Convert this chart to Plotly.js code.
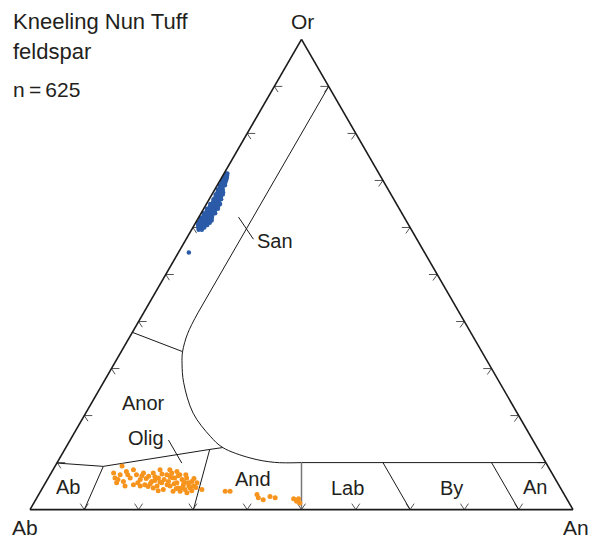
<!DOCTYPE html>
<html><head><meta charset="utf-8">
<script src="https://cdn.plot.ly/plotly-3.0.1.min.js"></script>
<style>html,body{margin:0;padding:0;background:#fff}</style>
</head><body><div id="chart" style="width:590px;height:540px"></div>
<script>
// ---- data (percent Or = a, An = c; Ab is the remainder to 100) ----
const blueOr = [71.5,71.5,71,71,70.5,70.5,70,70,70,69.5,69.5,69,69,69,68.5,68.5,68,68,68,67.5,67.5,67.5,67,67,67,67,66.5,66.5,66.5,66,66,66,66,65.5,65.5,65.5,65,65,65,65,65,64.5,64.5,64.5,64.5,64,64,64,64,64,63.5,63.5,63.5,63.5,63,63,63,63,63,62.5,62.5,62.5,62.5,62,62,62,62,62,61.5,61.5,61.5,61.5,61.5,61,61,61,61,61,60.5,60.5,60.5,60.5,60,60,60,59.5,59.5,54.7];
const blueAn = [0.3,0.6,0.4,0.8,0.5,1.0,0.3,0.7,1.1,0.6,1.2,0.5,0.9,1.4,0.7,1.2,0.6,1.0,1.5,0.8,1.3,1.8,0.7,1.1,1.6,2.0,0.9,1.4,1.9,0.8,1.2,1.7,2.2,1.0,1.5,2.0,0.7,1.1,1.6,2.1,2.5,0.9,1.4,1.9,2.4,0.6,1.0,1.5,2.0,2.6,0.8,1.3,1.8,2.3,0.5,1.0,1.5,2.1,2.6,0.7,1.2,1.7,2.3,0.4,0.9,1.4,2.0,2.5,0.6,1.1,1.7,2.2,2.7,0.5,1.0,1.5,2.1,2.6,0.7,1.2,1.8,2.4,1.0,1.5,2.1,1.3,1.9,1.9];

const orangeOr = [9.3,7.8,6.7,5.7,7.4,6.0,8.1,6.7,5.0,8.5,7.4,5.3,6.4,7.8,5.3,7.1,6.0,7.8,5.0,8.5,6.7,5.7,4.3,7.4,6.0,5.0,7.8,3.9,6.7,5.7,4.6,7.4,6.4,5.3,4.3,6.7,5.7,4.6,6.0,5.0,5.7,3.6,3.9,4.3,8.5,8.1,4.6,4.9,5.0,
  7.0,6.4,6.8,7.2,5.9,5.1,5.5,5.3,5.9,6.6,6.6,5.7,7.4,6.4,7.6,4.7,4.5,4.0,4.0,5.5,4.7,7.4,7.0,7.2,6.2,
  3.9,3.9,3.2,2.5,2.1,2.8,2.5,2.3,1.8,2.3,1.4];
const orangeAn = [12.3,11.5,12.3,13.1,12.9,14.2,13.7,15.1,15.0,14.8,15.9,16.4,17.1,17.0,18.5,18.3,19.4,18.8,20.9,19.7,20.3,21.4,22.4,21.5,22.5,23.3,22.2,24.4,23.3,24.2,25.0,23.9,24.8,25.6,26.4,25.5,26.3,27.2,26.8,27.6,27.9,27.1,25.7,29.5,21.5,23.0,20.4,19.3,17.8,
  19.5,21.5,22.8,23.7,25.4,26.7,23.8,22.6,21.0,26.9,18.1,17.0,14.3,13.0,20.5,25.7,24.7,27.8,21.6,19.4,28.2,25.0,22.3,17.0,19.9,
  34.0,34.9,40.2,40.8,41.9,42.8,43.9,47.4,48.2,48.3,49.0];

// field boundaries (Or %, An %)
const sanLineOr = [90, 42];              const sanLineAn = [10, 10];
const solvusOr = [42, 37.5, 33.6, 31.0, 27.0, 20.5, 15.6, 13.2, 11.0, 10.05, 10.0];
const solvusAn = [10, 10.3, 11.3, 12.5, 14.8, 19.8, 25.4, 28.9, 35.0, 40.0, 45.0];
const plagTopOr = [10, 10];              const plagTopAn = [45, 90];
const sanAnorOr = [37.7, 33.6];          const sanAnorAn = [0, 11.3];
const oligTopOr = [9.9, 9.2, 12.8, 13.2]; const oligTopAn = [0, 8.9, 26.7, 28.9];
const abOligOr = [9.2, 0];               const abOligAn = [8.9, 10];
const oligAndOr = [12.8, 0];             const oligAndAn = [26.7, 30.1];
const andLabOr = [10, 0];                const andLabAn = [45, 50];
const labByOr = [10, 0];                 const labByAn = [60, 70];
const byAnOr = [10, 0];                  const byAnAn = [80, 90];
const sanLeaderOr = [62.2, 57.5];        const sanLeaderAn = [7.3, 12.4];
const oligLeaderOr = [14.8, 9.9];        const oligLeaderAn = [18.1, 23.0];

const tickValues = [10,20,30,40,50,60,70,80,90];
const cornerLabels = ["Or","Ab","An"];
const fieldLabels = ["San","Anor","Olig","Ab","And","Lab","By","An"];
const titleLines = ["Kneeling Nun Tuff","feldspar","n\u2009=\u2009625"];

// ---- helpers ----
const S = 543, H = S*Math.sqrt(3)/2;
function shift(p, dx, dy){ const da = -dy/H*100; const dc = dx/S*100 - da/2; return {a:p.a+da, b:p.b-da-dc, c:p.c+dc}; }
const ta=[], tb=[], tc=[];
function seg(p,q){ ta.push(p.a,q.a,null); tb.push(p.b,q.b,null); tc.push(p.c,q.c,null); }
tickValues.forEach(t=>{
  const L={a:t,b:100-t,c:0}; seg(L,shift(L,8,0)); seg(L,shift(L,3.7,5.7));
  const R={a:t,b:0,c:100-t}; seg(R,shift(R,-8.3,0)); seg(R,shift(R,-4.3,6));
  const B={a:0,b:100-t,c:t}; seg(B,shift(B,-4,-6)); seg(B,shift(B,4,-6));
});

function line(aArr, cArr, extra){
  return Object.assign({type:'scatterternary', mode:'lines', a:aArr, c:cArr,
    b:aArr.map((v,i)=>100-v-cArr[i]),
    line:{color:'#1a1a1a', width:1}, hoverinfo:'skip', showlegend:false}, extra||{});
}

const traces = [
  {type:'scatterternary', mode:'lines', a:ta, b:tb, c:tc, line:{color:'#555', width:1}, hoverinfo:'skip', showlegend:false},
  line(sanLineOr, sanLineAn),
  line(solvusOr, solvusAn, {line:{color:'#1a1a1a', width:1, shape:'spline'}}),
  line(plagTopOr, plagTopAn),
  line(sanAnorOr, sanAnorAn),
  line(oligTopOr, oligTopAn),
  line(abOligOr, abOligAn),
  line(oligAndOr, oligAndAn),
  line(andLabOr, andLabAn, {line:{color:'#777', width:1.5}}),
  line(labByOr, labByAn),
  line(byAnOr, byAnAn),
  line(sanLeaderOr, sanLeaderAn),
  line(oligLeaderOr, oligLeaderAn),
  {type:'scatterternary', mode:'markers', a:orangeOr, c:orangeAn, b:orangeOr.map((v,i)=>100-v-orangeAn[i]),
   marker:{color:'#f7941d', size:5}, showlegend:false},
  {type:'scatterternary', mode:'markers', a:blueOr, c:blueAn, b:blueOr.map((v,i)=>100-v-blueAn[i]),
   marker:{color:'#2b5ba8', size:4.5}, showlegend:false}
];

const M = {l:30, r:17, t:39, b:30};
function px(x){ return (x-30)/543; }
function py(y){ return (510-y)/471; }
const font = {family:'Liberation Sans, Arial, Helvetica, sans-serif', size:20, color:'#231f20'};
function ann(text, x, y, xa, size){
  return {text:text, x:px(x), y:py(y), xref:'paper', yref:'paper', xanchor:xa||'center', yanchor:'middle',
    showarrow:false, font:Object.assign({}, font, {size:size||20})};
}
const annotations = [
  ann(titleLines[0], 11, 21.7, 'left', 22),
  ann(titleLines[1], 11, 51.6, 'left', 22),
  ann(titleLines[2], 11, 90, 'left', 21),
  ann(cornerLabels[0], 302, 21.7, 'center', 21),
  ann(cornerLabels[1], 25, 527, 'center', 21),
  ann(cornerLabels[2], 575.5, 527, 'center', 21),
  ann(fieldLabels[0], 274.5, 241),
  ann(fieldLabels[1], 143, 403),
  ann(fieldLabels[2], 146, 438),
  ann(fieldLabels[3], 68, 487),
  ann(fieldLabels[4], 252.5, 479),
  ann(fieldLabels[5], 347, 488),
  ann(fieldLabels[6], 451, 488),
  ann(fieldLabels[7], 535, 487)
];

const axisBase = {title:{text:''}, showticklabels:false, ticks:'', showgrid:false, linecolor:'#1a1a1a', linewidth:1.6, min:0};
const layout = {
  width:590, height:540, margin:M, paper_bgcolor:'#fff', showlegend:false,
  ternary:{sum:100, domain:{x:[0,1], y:[0,1]}, bgcolor:'rgba(0,0,0,0)',
    aaxis:Object.assign({}, axisBase), baxis:Object.assign({}, axisBase), caxis:Object.assign({}, axisBase)},
  annotations:annotations, font:font
};
Plotly.newPlot('chart', traces, layout, {staticPlot:true, displayModeBar:false});
</script>
</body></html>
